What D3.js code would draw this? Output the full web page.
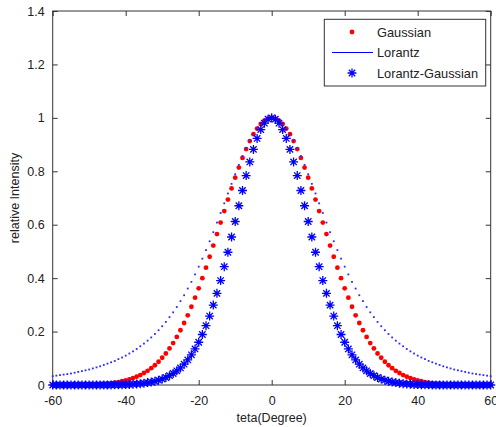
<!DOCTYPE html>
<html>
<head>
<meta charset="utf-8">
<script src="https://cdn.jsdelivr.net/npm/d3@7/dist/d3.min.js"></script>
<style>
  html, body { margin: 0; padding: 0; background: #fff; }
  svg { display: block; }
  text { font-family: "Liberation Sans", Arial, sans-serif; fill: #222; }
</style>
</head>
<body>
<svg id="chart" width="496" height="427"></svg>
<script>
// ---- data ----
const teta = [-60,-59,-58,-57,-56,-55,-54,-53,-52,-51,-50,-49,-48,-47,-46,-45,-44,-43,-42,-41,
  -40,-39,-38,-37,-36,-35,-34,-33,-32,-31,-30,-29,-28,-27,-26,-25,-24,-23,-22,-21,
  -20,-19,-18,-17,-16,-15,-14,-13,-12,-11,-10,-9,-8,-7,-6,-5,-4,-3,-2,-1,
  0,1,2,3,4,5,6,7,8,9,10,11,12,13,14,15,16,17,18,19,
  20,21,22,23,24,25,26,27,28,29,30,31,32,33,34,35,36,37,38,39,
  40,41,42,43,44,45,46,47,48,49,50,51,52,53,54,55,56,57,58,59,60];

const gaussian = [0,0,0,0,0,0,0,0.001,0.001,0.001,0.002,0.002,0.003,0.004,0.005,0.006,0.007,0.009,0.011,0.014,
  0.017,0.021,0.026,0.031,0.037,0.045,0.053,0.063,0.074,0.087,0.102,0.118,0.137,0.157,0.180,0.205,0.232,0.261,0.293,0.327,
  0.362,0.400,0.439,0.480,0.522,0.565,0.608,0.651,0.694,0.736,0.776,0.814,0.850,0.883,0.913,0.939,0.960,0.977,0.990,0.997,
  1,
  0.997,0.990,0.977,0.960,0.939,0.913,0.883,0.850,0.814,0.776,0.736,0.694,0.651,0.608,0.565,0.522,0.480,0.439,0.400,0.362,
  0.327,0.293,0.261,0.232,0.205,0.180,0.157,0.137,0.118,0.102,0.087,0.074,0.063,0.053,0.045,0.037,0.031,0.026,0.021,0.017,
  0.014,0.011,0.009,0.007,0.006,0.005,0.004,0.003,0.002,0.002,0.001,0.001,0.001,0,0,0,0,0,0,0];

const lorantz = [0.033,0.035,0.037,0.039,0.041,0.043,0.046,0.049,0.052,0.055,0.058,0.062,0.066,0.070,0.075,0.080,0.085,0.090,0.097,0.103,
  0.110,0.118,0.126,0.135,0.145,0.155,0.166,0.178,0.191,0.205,0.220,0.236,0.254,0.272,0.292,0.314,0.336,0.361,0.386,0.414,
  0.443,0.473,0.505,0.538,0.572,0.608,0.644,0.680,0.717,0.753,0.789,0.824,0.857,0.887,0.915,0.940,0.961,0.978,0.990,0.997,
  1,
  0.997,0.990,0.978,0.961,0.940,0.915,0.887,0.857,0.824,0.789,0.753,0.717,0.680,0.644,0.608,0.572,0.538,0.505,0.473,0.443,
  0.414,0.386,0.361,0.336,0.314,0.292,0.272,0.254,0.236,0.220,0.205,0.191,0.178,0.166,0.155,0.145,0.135,0.126,0.118,0.110,
  0.103,0.097,0.090,0.085,0.080,0.075,0.070,0.066,0.062,0.058,0.055,0.052,0.049,0.046,0.043,0.041,0.039,0.037,0.035,0.033];

const lorantzGaussian = [0,0,0,0,0,0,0,0,0,0,0,0,0,0,0,0,0,0.001,0.001,0.001,
  0.002,0.002,0.003,0.004,0.005,0.007,0.009,0.011,0.014,0.018,0.022,0.028,0.035,0.043,0.053,0.064,0.078,0.094,0.113,0.135,
  0.160,0.189,0.222,0.258,0.299,0.343,0.391,0.443,0.497,0.554,0.612,0.671,0.728,0.784,0.835,0.882,0.923,0.956,0.980,0.995,
  1,
  0.995,0.980,0.956,0.923,0.882,0.835,0.784,0.728,0.671,0.612,0.554,0.497,0.443,0.391,0.343,0.299,0.258,0.222,0.189,0.160,
  0.135,0.113,0.094,0.078,0.064,0.053,0.043,0.035,0.028,0.022,0.018,0.014,0.011,0.009,0.007,0.005,0.004,0.003,0.002,0.002,
  0.001,0.001,0.001,0,0,0,0,0,0,0,0,0,0,0,0,0,0,0,0,0,0];

const xTicks = [-60,-40,-20,0,20,40,60];
const xTickLabels = ["-60","-40","-20","0","20","40","60"];
const yTicks = [0,0.2,0.4,0.6,0.8,1,1.2,1.4];
const yTickLabels = ["0","0.2","0.4","0.6","0.8","1","1.2","1.4"];
const seriesNames = ["Gaussian","Lorantz","Lorantz-Gaussian"];

// ---- chart ----
const svg = d3.select("#chart");
const L = 52.7, R = 490.7, T = 11, B = 385;
const x = d3.scaleLinear().domain([-60, 60]).range([L, R]);
const y = d3.scaleLinear().domain([0, 1.4]).range([B, T]);
const axisColor = "#333";
const fs = 12.5;

const rows = teta.map((t, i) => ({t, g: gaussian[i], l: lorantz[i], lg: lorantzGaussian[i]}));

// frame
svg.append("rect").attr("x", L).attr("y", T).attr("width", R - L).attr("height", B - T)
  .attr("fill", "#fff").attr("stroke", axisColor).attr("stroke-width", 1);

function styleAxis(g) {
  g.select(".domain").remove();
  g.selectAll(".tick line").attr("stroke", axisColor);
  g.selectAll(".tick text").attr("font-size", fs).attr("fill", "#222")
    .attr("font-family", "'Liberation Sans', Arial, sans-serif");
}

const xf = (d) => xTickLabels[xTicks.indexOf(d)];
const yf = (d) => yTickLabels[yTicks.indexOf(d)];

svg.append("g").attr("transform", `translate(0,${B})`)
  .call(d3.axisBottom(x).tickValues(xTicks).tickFormat(xf).tickSize(-5).tickPadding(11))
  .call(styleAxis);
svg.append("g").attr("transform", `translate(0,${T})`)
  .call(d3.axisTop(x).tickValues(xTicks).tickFormat("").tickSize(-5))
  .call(styleAxis);
svg.append("g").attr("transform", `translate(${L},0)`)
  .call(d3.axisLeft(y).tickValues(yTicks).tickFormat(yf).tickSize(-5).tickPadding(8))
  .call(styleAxis);
svg.append("g").attr("transform", `translate(${R},0)`)
  .call(d3.axisRight(y).tickValues(yTicks).tickFormat("").tickSize(-5))
  .call(styleAxis);

// axis labels
svg.append("text").attr("x", (L + R) / 2).attr("y", 422).attr("text-anchor", "middle")
  .attr("font-size", fs).text("teta(Degree)");
svg.append("text").attr("transform", `translate(19,${(T + B) / 2}) rotate(-90)`)
  .attr("text-anchor", "middle").attr("font-size", fs).text("relative Intensity");

// series
const starPath = "M-4.5,0H4.5M0,-4.5V4.5M-3.2,-3.2L3.2,3.2M-3.2,3.2L3.2,-3.2";

svg.append("g").selectAll("circle").data(rows).join("circle")
  .attr("cx", d => x(d.t)).attr("cy", d => y(d.g)).attr("r", 2.4).attr("fill", "#ff0000");

svg.append("g").selectAll("rect").data(rows).join("rect")
  .attr("x", d => x(d.t) - 0.9).attr("y", d => y(d.l) - 0.9).attr("width", 1.8).attr("height", 1.8)
  .attr("fill", "#2a2aff");

svg.append("g").selectAll("path").data(rows).join("path")
  .attr("transform", d => `translate(${x(d.t)},${y(d.lg)})`).attr("d", starPath)
  .attr("fill", "none").attr("stroke", "#0000ff").attr("stroke-width", 1.3);

// legend
const lg = svg.append("g");
lg.append("rect").attr("x", 324.3).attr("y", 19.3).attr("width", 161.4).attr("height", 66.7)
  .attr("fill", "#fff").attr("stroke", axisColor).attr("stroke-width", 1);
const ly = [32, 52.5, 73];
lg.append("circle").attr("cx", 352).attr("cy", ly[0]).attr("r", 2.4).attr("fill", "#ff0000");
lg.append("line").attr("x1", 332).attr("x2", 373).attr("y1", ly[1]).attr("y2", ly[1])
  .attr("stroke", "#0000ff").attr("stroke-width", 1);
lg.append("path").attr("transform", `translate(352,${ly[2]})`).attr("d", starPath)
  .attr("fill", "none").attr("stroke", "#0000ff").attr("stroke-width", 1.3);
seriesNames.forEach((n, i) => {
  lg.append("text").attr("x", 377).attr("y", ly[i] + 4.6).attr("font-size", 12.8).text(n);
});
</script>
</body>
</html>
